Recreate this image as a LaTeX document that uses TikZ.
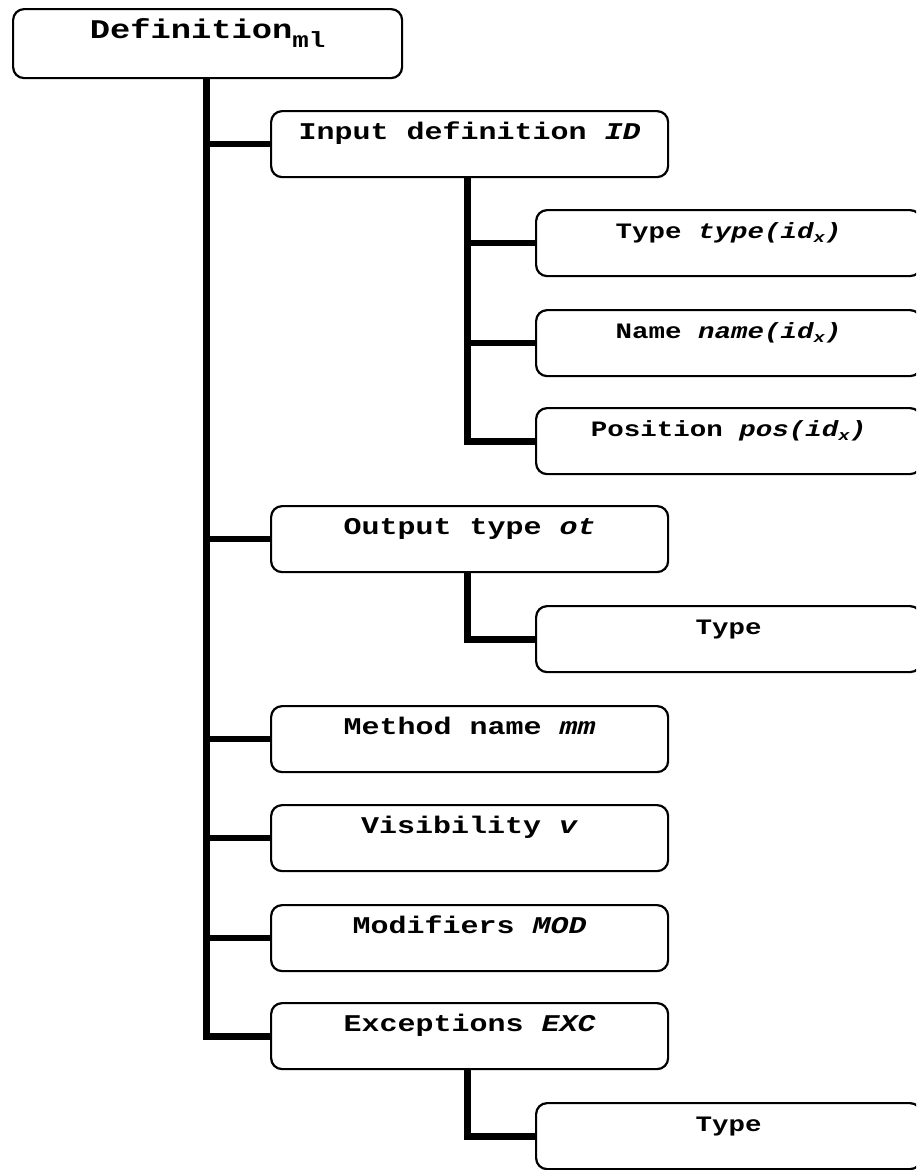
\documentclass[tikz,border=0pt]{standalone}
\usepackage{fontspec}
\newfontfamily\cf[FakeStretch=1.25]{Liberation Mono}
\newcommand\mysub[1]{\raisebox{-4pt}{\fontsize{15}{15}\selectfont #1}}
\begin{document}
\begin{tikzpicture}[x=1pt,y=-1pt,
  box/.style={draw, line width=2.2pt, rounded corners=11pt, inner xsep=0pt, inner ysep=0pt, anchor=north west},
  defbox/.style={box, minimum width=389pt, text height=29pt, text depth=40pt, font={\cf\bfseries\fontsize{27}{27}\selectfont}},
  lone/.style={box, minimum width=397pt, text height=28pt, text depth=38pt, font={\cf\bfseries\fontsize{24}{24}\selectfont}},
  ltwo/.style={box, minimum width=385pt, text height=28pt, text depth=38pt, font={\cf\bfseries\fontsize{22}{22}\selectfont}},
  trunk/.style={line width=7pt},
  twig/.style={line width=5.5pt}]
\useasboundingbox (0,0) rectangle (916,1170);
\fill[white] (0,0) rectangle (916,1170);
\clip (0,0) rectangle (916,1170);

\node[defbox] (def) at (12,8) {Definition\raisebox{-9pt}{\fontsize{22}{22}\selectfont ml}};

\node[lone] (in)   at (270,110)  {Input definition \textit{ID}};
\node[lone] (out)  at (270,505)  {Output type \textit{ot}};
\node[lone] (meth) at (270,705)  {Method name \textit{mm}};
\node[lone] (vis)  at (270,804)  {Visibility \textit{v}};
\node[lone] (mod)  at (270,904)  {Modifiers \textit{MOD}};
\node[lone] (exc)  at (270,1002) {Exceptions \textit{EXC}};

\node[ltwo] (tya) at (535,209)  {Type \textit{type(id\mysub{x})}};
\node[ltwo] (nm)  at (535,309)  {Name \textit{name(id\mysub{x})}};
\node[ltwo] (pos) at (535,407)  {Position \textit{pos(id\mysub{x})}};
\node[ltwo] (tyb) at (535,605)  {Type};
\node[ltwo] (tyc) at (535,1102) {Type};

\coordinate (tx) at (206,0);
\coordinate (sx) at (467,0);

\draw[trunk] (def.south -| tx) -- (tx |- exc.west) -- (exc.west);
\foreach \n in {in,out,meth,vis,mod}
  \draw[twig] (tx |- \n.west) -- (\n.west);

\draw[trunk] (in.south -| sx) -- (sx |- pos.west) -- (pos.west);
\draw[twig] (sx |- tya.west) -- (tya.west);
\draw[twig] (sx |- nm.west) -- (nm.west);

\draw[trunk] (out.south -| sx) -- (sx |- tyb.west) -- (tyb.west);
\draw[trunk] (exc.south -| sx) -- (sx |- tyc.west) -- (tyc.west);
\end{tikzpicture}
\end{document}
